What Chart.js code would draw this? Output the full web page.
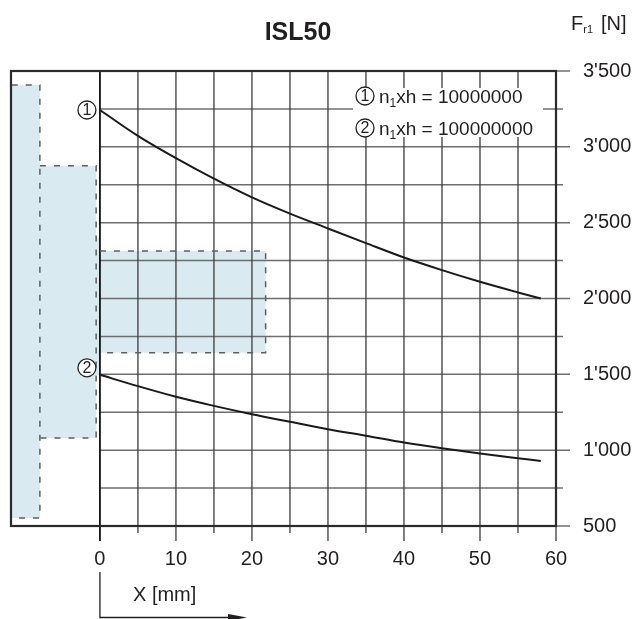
<!DOCTYPE html>
<html><head><meta charset="utf-8">
<script src="https://cdn.jsdelivr.net/npm/chart.js@4.4.1/dist/chart.umd.min.js"></script>
<style>html,body{margin:0;padding:0;background:#fff;overflow:hidden}</style>
</head><body>
<canvas id="c" width="640" height="619"></canvas>
<script>
// ---- data ----
const curveX = [0, 5, 10, 15, 20, 25, 30, 35, 40, 45, 50, 55, 58];
const curve1 = [3243, 3072, 2925, 2790, 2667, 2560, 2462, 2365, 2270, 2187, 2110, 2040, 2000];
const curve2 = [1497, 1422, 1352, 1292, 1237, 1187, 1138, 1095, 1050, 1012, 978, 947, 929];
const xTicks = [0, 10, 20, 30, 40, 50, 60];
const yTicks = [500, 1000, 1500, 2000, 2500, 3000, 3500];
const xGrid = [0, 5, 10, 15, 20, 25, 30, 35, 40, 45, 50, 55, 60];
const yGrid = [500, 750, 1000, 1250, 1500, 1750, 2000, 2250, 2500, 2750, 3000, 3250, 3500];
const zone1X = [-11.6, -7.9, -7.9, -11.6];
const zone1Y = [3408, 3408, 553, 553];
const zone2X = [-7.9, -0.5, -0.5, 0, 0, -0.5, -0.5, -7.9];
const zone2Y = [2875, 2875, 2398, 2398, 1495, 1495, 1081, 1081];
const zone3X = [0, 21.8, 21.8, 0];
const zone3Y = [2313, 2313, 1642, 1642];
const edge1X = [-11.6, -7.9, -7.9, -10.8];
const edge1Y = [3408, 3408, 553, 553];
const edge2X = [-7.9, -0.5, -0.5, -7.9];
const edge2Y = [2875, 2875, 1081, 1081];
const edge3X = [0, 21.8, 21.8, 0];
const edge3Y = [2313, 2313, 1642, 1642];
const legendLabels = ['10000000', '100000000'];
const title = 'ISL50';
const xTitle = 'X [mm]';

const pts = (xs, ys) => xs.map((v, i) => ({x: v, y: ys[i]}));
const FONT = '"Liberation Sans", Arial, sans-serif';
const INK = '#231f20';
const SHADE = '#daeaf1';

function fmt(v) {
  const s = String(v);
  return v >= 1000 ? s.slice(0, -3) + "'" + s.slice(-3) : s;
}

function circled(ctx, cx, cy, r, d) {
  ctx.save();
  ctx.beginPath();
  ctx.arc(cx, cy, r, 0, Math.PI * 2);
  ctx.fillStyle = '#fff';
  ctx.fill();
  ctx.lineWidth = 1.3;
  ctx.strokeStyle = INK;
  ctx.stroke();
  ctx.fillStyle = INK;
  ctx.font = '16px ' + FONT;
  ctx.textAlign = 'center';
  ctx.textBaseline = 'middle';
  ctx.fillText(d, cx, cy + 1);
  ctx.restore();
}

const deco = {
  id: 'deco',
  beforeDatasetsDraw(chart) {
    const {ctx, chartArea: a, scales: {x, y}} = chart;
    ctx.save();
    const x0 = x.getPixelForValue(0);
    ctx.strokeStyle = '#6e6e6e';
    ctx.lineWidth = 1.5;
    yGrid.forEach(v => {
      const py = y.getPixelForValue(v);
      ctx.beginPath();
      ctx.moveTo(x0, py);
      ctx.lineTo(a.right + (v % 500 === 0 ? 14 : 7), py);
      ctx.stroke();
    });
    xGrid.forEach(v => {
      const px = x.getPixelForValue(v);
      ctx.strokeStyle = v === 0 ? '#111' : '#3c3c3c';
      ctx.lineWidth = v === 0 ? 1.8 : 1.3;
      ctx.beginPath();
      ctx.moveTo(px, a.top);
      ctx.lineTo(px, a.bottom + (v % 10 === 0 ? 15 : 7));
      ctx.stroke();
    });
    ctx.restore();
  },
  afterDatasetsDraw(chart) {
    const {ctx, chartArea: a, scales: {x, y}} = chart;
    ctx.save();
    // legend box
    ctx.fillStyle = '#fff';
    ctx.fillRect(353, 88, 190, 49);
    const rows = [96, 128];
    rows.forEach((cy, i) => {
      circled(ctx, 365, cy, 9, String(i + 1));
      ctx.fillStyle = INK;
      ctx.textAlign = 'left';
      ctx.textBaseline = 'alphabetic';
      ctx.font = '19px ' + FONT;
      let tx = 379;
      const base = cy + 7;
      ctx.fillText('n', tx, base);
      tx += ctx.measureText('n').width;
      ctx.font = '12px ' + FONT;
      ctx.fillText('1', tx, base + 4);
      tx += ctx.measureText('1').width;
      ctx.font = '19px ' + FONT;
      ctx.fillText('xh = ' + legendLabels[i], tx, base);
    });
    // curve labels
    circled(ctx, x.getPixelForValue(0) - 13, y.getPixelForValue(curve1[0]), 9, '1');
    circled(ctx, x.getPixelForValue(0) - 13, y.getPixelForValue(curve2[0]) - 7, 9, '2');
    // frame
    ctx.strokeStyle = '#2a2a2a';
    ctx.lineWidth = 2.2;
    ctx.strokeRect(a.left, a.top, a.right - a.left, a.bottom - a.top);
    ctx.restore();
  },
  afterDraw(chart) {
    const {ctx, scales: {x}} = chart;
    ctx.save();
    ctx.fillStyle = INK;
    ctx.font = 'bold 25px ' + FONT;
    ctx.textAlign = 'center';
    ctx.textBaseline = 'alphabetic';
    ctx.fillText(title, 298, 40);
    // y axis title F_r1 [N]
    ctx.textAlign = 'left';
    ctx.font = '20px ' + FONT;
    let tx = 571;
    ctx.fillText('F', tx, 30);
    tx += ctx.measureText('F').width;
    ctx.font = '11px ' + FONT;
    ctx.fillText('r1', tx, 33);
    ctx.font = '20px ' + FONT;
    ctx.fillText('[N]', 601, 30);
    // x axis title with arrow
    const x0 = x.getPixelForValue(0);
    ctx.font = '20px ' + FONT;
    ctx.fillText(xTitle, 133, 601);
    ctx.strokeStyle = INK;
    ctx.lineWidth = 1.3;
    ctx.beginPath();
    ctx.moveTo(x0, 572);
    ctx.lineTo(x0, 617.5);
    ctx.lineTo(232, 617.5);
    ctx.stroke();
    ctx.beginPath();
    ctx.moveTo(228, 614);
    ctx.lineTo(247, 617.5);
    ctx.lineTo(228, 621);
    ctx.closePath();
    ctx.fill();
    ctx.restore();
  }
};

const fillDs = (xs, ys) => ({
  data: pts(xs, ys), fill: 'shape', backgroundColor: SHADE,
  borderColor: 'rgba(0,0,0,0)', borderWidth: 0, pointRadius: 0, tension: 0
});
const edgeDs = (xs, ys) => ({
  data: pts(xs, ys), fill: false, borderColor: '#5f5f5f', borderWidth: 1.5,
  borderDash: [6, 8], pointRadius: 0, tension: 0
});
const curveDs = (ys) => ({
  data: pts(curveX, ys), fill: false, borderColor: '#1a1a1a', borderWidth: 2,
  pointRadius: 0, cubicInterpolationMode: 'monotone'
});

new Chart(document.getElementById('c'), {
  type: 'line',
  data: {
    datasets: [
      fillDs(zone1X, zone1Y), fillDs(zone2X, zone2Y), fillDs(zone3X, zone3Y),
      edgeDs(edge1X, edge1Y), edgeDs(edge2X, edge2Y), edgeDs(edge3X, edge3Y),
      curveDs(curve1), curveDs(curve2)
    ]
  },
  options: {
    responsive: false,
    animation: false,
    events: [],
    devicePixelRatio: 1,
    layout: {padding: {left: 11, top: 71, right: 0, bottom: 0}},
    plugins: {
      legend: {display: false},
      tooltip: {enabled: false},
      filler: {drawTime: 'beforeDraw'}
    },
    scales: {
      x: {
        type: 'linear', position: 'bottom', min: -11.7, max: 60,
        grid: {display: false, drawTicks: false},
        border: {display: false},
        afterBuildTicks: ax => { ax.ticks = xTicks.map(v => ({value: v})); },
        afterFit: ax => { ax.height = 93; },
        ticks: {autoSkip: false, maxRotation: 0, padding: 21, color: INK,
                font: {family: FONT, size: 20}}
      },
      y: {
        type: 'linear', position: 'right', min: 500, max: 3500,
        grid: {display: false, drawTicks: false},
        border: {display: false},
        afterBuildTicks: ax => { ax.ticks = yTicks.map(v => ({value: v})); },
        afterFit: ax => { ax.width = 84; },
        ticks: {autoSkip: false, padding: 27, color: INK,
                font: {family: FONT, size: 20}, callback: v => fmt(v)}
      }
    }
  },
  plugins: [deco]
});
</script>
</body></html>
